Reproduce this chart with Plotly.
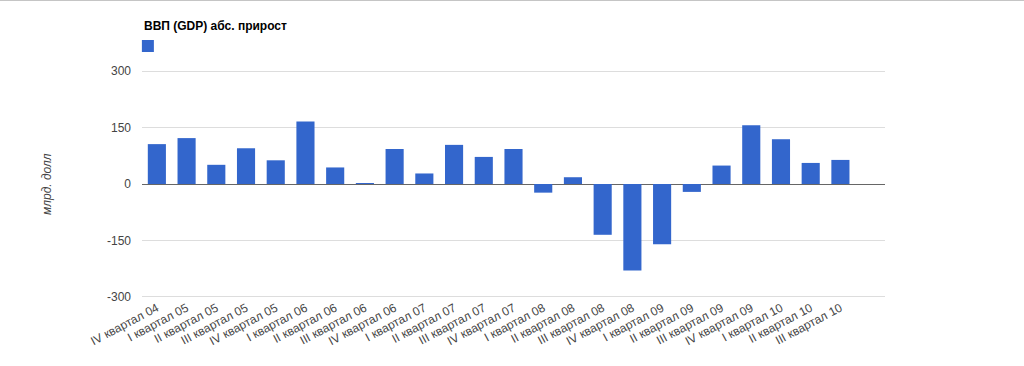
import plotly.graph_objects as go

categories = [
    "IV квартал 04",
    "I квартал 05", "II квартал 05", "III квартал 05", "IV квартал 05",
    "I квартал 06", "II квартал 06", "III квартал 06", "IV квартал 06",
    "I квартал 07", "II квартал 07", "III квартал 07", "IV квартал 07",
    "I квартал 08", "II квартал 08", "III квартал 08", "IV квартал 08",
    "I квартал 09", "II квартал 09", "III квартал 09", "IV квартал 09",
    "I квартал 10", "II квартал 10", "III квартал 10",
]
gdp_growth = [106, 122, 51, 95, 63, 166, 44, 2, 93, 28, 104, 72,
              93, -23, 18, -135, -230, -160, -21, 49, 156, 119, 56, 64]
y_ticks = [-300, -150, 0, 150, 300]
y_tick_labels = ["-300", "-150", "0", "150", "300"]
series_name = "ВВП (GDP) абс. прирост"
y_title = "млрд. долл"

FONT = "Arial, Liberation Sans, sans-serif"

L, R, T, B = 142, 139, 70.4, 68.4
PW, PH = 1024 - L - R, 366 - T - B

fig = go.Figure()
fig.add_trace(go.Bar(
    x=categories, y=gdp_growth, name=" ",
    marker=dict(color="#3366cc", line=dict(width=0)),
    showlegend=True, hoverinfo="x+y",
))

fig.update_layout(
    width=1024, height=366,
    margin=dict(l=L, r=R, t=T, b=B, autoexpand=False),
    paper_bgcolor="white", plot_bgcolor="white",
    font=dict(family=FONT, size=11, color="#444444"),
    bargap=0.39,
    showlegend=True,
    legend=dict(
        x=-0.019, y=1 + (T - 32) / PH, xanchor="left", yanchor="top",
        orientation="h",
        font=dict(size=1),
        itemwidth=30,
        bgcolor="rgba(0,0,0,0)",
    ),
    xaxis=dict(
        type="category", range=[-0.5, 24.5],
        tickangle=-28, tickfont=dict(size=12, color="#444444"),
        showgrid=False, zeroline=False, showline=False, ticks="",
        automargin=False,
    ),
    yaxis=dict(
        range=[-303, 303], tickvals=y_ticks, ticktext=y_tick_labels,
        tickfont=dict(size=12, color="#444444"),
        showgrid=True, gridcolor="#dddddd", gridwidth=1,
        zeroline=True, zerolinecolor="#666666", zerolinewidth=1,
        showline=False, ticks="", ticklabelstandoff=10,
        automargin=False,
    ),
    annotations=[
        dict(
            text="<i>" + y_title + "</i>", textangle=-90,
            xref="paper", yref="paper", x=(47 - L) / PW, y=0.5,
            xanchor="center", yanchor="middle", showarrow=False,
            font=dict(family=FONT, size=12, color="#444444"),
        ),
        dict(
            text="<b>" + series_name + "</b>",
            xref="paper", yref="paper", x=(142 - L) / PW, y=1 + (T - 27) / PH,
            xanchor="left", yanchor="middle", showarrow=False,
            font=dict(family=FONT, size=12, color="#000000"),
        ),
    ],
    shapes=[
        dict(type="line", xref="paper", yref="paper",
             x0=-0.2, x1=1.2, y0=1 + (T - 1) / PH, y1=1 + (T - 1) / PH,
             line=dict(color="#bbbbbb", width=1)),
    ],
)

fig.write_html(
    "out.html",
    config={"displayModeBar": False},
    post_script="document.body.style.margin='0';document.body.style.overflow='hidden';",
)
